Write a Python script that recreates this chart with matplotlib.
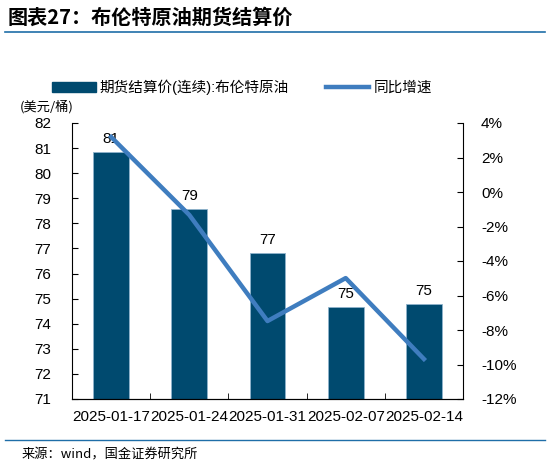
import matplotlib.pyplot as plt
import numpy as np
from matplotlib.lines import Line2D

plt.rcParams['font.family'] = ['Liberation Sans', 'Noto Sans CJK SC', 'DejaVu Sans']

dates = ['2025-01-17', '2025-01-24', '2025-01-31', '2025-02-07', '2025-02-14']
price = [80.85, 78.57, 76.82, 74.67, 74.79]
yoy = [3.19, -1.33, -7.48, -4.99, -9.68]
labels = ['81', '79', '77', '75', '75']

bar_color = '#004A6F'
line_color = '#3F7DBF'

fig = plt.figure(figsize=(5.5, 4.67), dpi=100)
ax = fig.add_axes([72 / 550, 1 - 399 / 467, (463 - 72) / 550, (399 - 123) / 467])

x = np.arange(len(dates))
ax.bar(x, [p - 71 for p in price], bottom=71, width=0.46, color=bar_color,
       edgecolor='#8FB3CC', linewidth=0.6, zorder=2)
for xi, p, lab in zip(x, price, labels):
    ax.text(xi, p + 0.25, lab, ha='center', va='bottom', fontsize=11, zorder=5)

ax.set_xlim(-0.5, len(dates) - 0.5)
ax.set_ylim(71, 82)
ax.set_yticks(range(71, 83))
ax.set_xticks(x)
ax.set_xticklabels(dates, fontsize=11)
ax.set_xticks(np.arange(0.5, len(dates) - 0.5, 1), minor=True)
ax.tick_params(axis='x', which='major', length=0, pad=8)
ax.tick_params(axis='x', which='minor', direction='in', length=4)
ax.tick_params(axis='y', direction='in', length=4, labelsize=11, pad=15)
ax.spines['top'].set_visible(False)
ax.spines['right'].set_visible(False)

ax2 = ax.twinx()
ax2.plot(x, yoy, color=line_color, linewidth=3.2, zorder=4)
ax2.set_ylim(-12, 4)
ax2.set_yticks(range(-12, 5, 2))
ax2.set_yticklabels([f'{v}%' for v in range(-12, 5, 2)])
ax2.tick_params(axis='y', direction='in', length=4, labelsize=11, pad=13)
ax2.spines['top'].set_visible(False)
ax2.spines['left'].set_visible(False)

fig.text(20 / 550, 1 - 107 / 467, '(美元/桶)', fontsize=9.5, va='center',
         family=['Noto Sans CJK SC', 'DejaVu Sans'])

handles = [plt.Rectangle((0, 0), 1, 1, color=bar_color),
           Line2D([0], [0], color=line_color, linewidth=3.2)]
fig.legend(handles, ['期货结算价(连续):布伦特原油', '同比增速'], loc='center',
           bbox_to_anchor=(0.44, 1 - 87 / 467), ncol=2, frameon=False,
           handlelength=3, columnspacing=2.5, handletextpad=0.3,
           prop={'family': ['Liberation Sans', 'Noto Sans CJK SC'], 'size': 10.5})

fig.text(8 / 550, 1 - 17 / 467, '图表27：布伦特原油期货结算价', fontsize=14.5,
         fontweight='bold', style='italic', va='center',
         family=['Noto Sans CJK SC', 'DejaVu Sans'])
fig.add_artist(Line2D([5 / 550, 545 / 550], [1 - 32 / 467] * 2, color='#1F6EA8', linewidth=1.2))
fig.add_artist(Line2D([5 / 550, 545 / 550], [1 - 440 / 467] * 2, color='#1F6EA8', linewidth=1.0))
fig.text(22 / 550, 1 - 455 / 467, '来源：wind，国金证券研究所', fontsize=9.5, va='center',
         family=['Noto Sans CJK SC', 'DejaVu Sans'])

fig.savefig('out.png', dpi=100)
